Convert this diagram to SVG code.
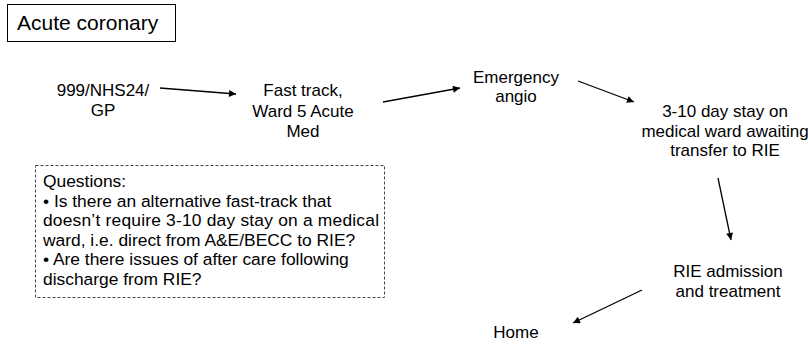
<svg xmlns="http://www.w3.org/2000/svg" width="808" height="344" viewBox="0 0 808 344">
  <style>
    text { font-family: "Liberation Sans", Arial, sans-serif; fill: #000; }
    .lbl { font-size: 17px; text-anchor: middle; }
    .note { font-size: 17.4px; }
    .title { font-size: 21px; }
    .conn { stroke: #000; stroke-width: 1.3; fill: none; marker-end: url(#arrow); }
  </style>
  <defs>
    <marker id="arrow" viewBox="0 0 10 10" refX="10" refY="5" markerWidth="9" markerHeight="7" markerUnits="userSpaceOnUse" orient="auto">
      <path d="M0,0 L10,5 L0,10 z" fill="#000"/>
    </marker>
  </defs>
  <rect width="808" height="344" fill="#fff"/>

  <g id="title">
    <rect x="7.5" y="4.5" width="168" height="37" fill="none" stroke="#000" stroke-width="1"/>
    <text class="title" x="17" y="30">Acute coronary</text>
  </g>

  <g id="node-referral">
    <text class="lbl" x="103" y="96">999/NHS24/</text>
    <text class="lbl" x="103" y="116">GP</text>
  </g>

  <g id="node-fasttrack">
    <text class="lbl" x="303" y="96">Fast track,</text>
    <text class="lbl" x="303" y="117">Ward 5 Acute</text>
    <text class="lbl" x="303" y="137">Med</text>
  </g>

  <g id="node-angio">
    <text class="lbl" x="516" y="83">Emergency</text>
    <text class="lbl" x="516" y="102">angio</text>
  </g>

  <g id="node-ward">
    <text class="lbl" x="725" y="117">3-10 day stay on</text>
    <text class="lbl" x="725" y="137">medical ward awaiting</text>
    <text class="lbl" x="725" y="156">transfer to RIE</text>
  </g>

  <g id="node-rie">
    <text class="lbl" x="728" y="277">RIE admission</text>
    <text class="lbl" x="728" y="297">and treatment</text>
  </g>

  <g id="node-home">
    <text class="lbl" x="516" y="338">Home</text>
  </g>

  <g id="questions">
    <rect x="35.5" y="165.5" width="349" height="132" fill="none" stroke="#444" stroke-width="1" stroke-dasharray="3,2"/>
    <text class="note" x="43" y="187">Questions:</text>
    <text class="note" x="43" y="206.5">• Is there an alternative fast-track that</text>
    <text class="note" x="43" y="226" textLength="336" lengthAdjust="spacing">doesn’t require 3-10 day stay on a medical</text>
    <text class="note" x="43" y="245.5">ward, i.e. direct from A&amp;E/BECC to RIE?</text>
    <text class="note" x="43" y="265">• Are there issues of after care following</text>
    <text class="note" x="43" y="284.5">discharge from RIE?</text>
  </g>

  <g id="connectors">
    <line class="conn" x1="160" y1="88" x2="236" y2="94"/>
    <line class="conn" x1="383" y1="102" x2="460" y2="88"/>
    <line class="conn" x1="578" y1="81" x2="634" y2="102"/>
    <line class="conn" x1="718" y1="178" x2="731" y2="240"/>
    <line class="conn" x1="642" y1="290" x2="573" y2="323"/>
  </g>
</svg>
